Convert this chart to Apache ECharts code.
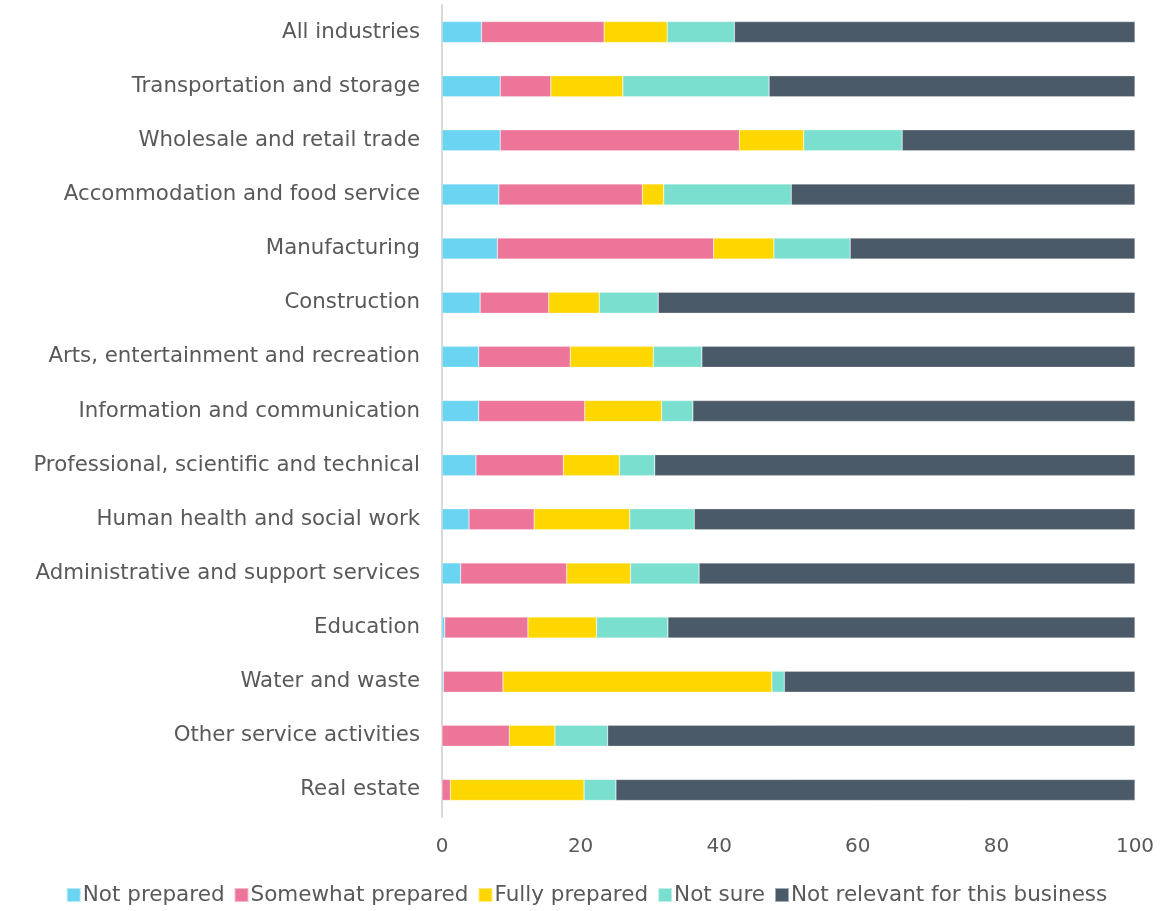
<!DOCTYPE html>
<html>
<head>
<meta charset="utf-8">
<script src="https://cdn.jsdelivr.net/npm/echarts@6/dist/echarts.min.js"></script>
<style>
  html, body { margin: 0; padding: 0; background: #fff; }
  #chart { width: 1173px; height: 911px; }
</style>
</head>
<body>
<div id="chart"></div>
<script>
// 行业（从上到下）
const industries = [
  'All industries',
  'Transportation and storage',
  'Wholesale and retail trade',
  'Accommodation and food service',
  'Manufacturing',
  'Construction',
  'Arts, entertainment and recreation',
  'Information and communication',
  'Professional, scientific and technical',
  'Human health and social work',
  'Administrative and support services',
  'Education',
  'Water and waste',
  'Other service activities',
  'Real estate'
]

// 各系列数值（%），顺序同上
const notPrepared = [5.7, 8.4, 8.4, 8.2, 8.0, 5.5, 5.3, 5.3, 4.9, 3.9, 2.7, 0.4, 0.2, 0, 0]
const somewhatPrepared = [17.7, 7.3, 34.5, 20.7, 31.2, 9.9, 13.2, 15.3, 12.6, 9.4, 15.3, 12.0, 8.6, 9.7, 1.2]
const fullyPrepared = [9.1, 10.4, 9.3, 3.1, 8.7, 7.3, 12.0, 11.1, 8.1, 13.8, 9.2, 9.9, 38.8, 6.6, 19.3]
const notSure = [9.7, 21.1, 14.2, 18.4, 11.0, 8.5, 7.0, 4.5, 5.1, 9.3, 9.9, 10.3, 1.8, 7.6, 4.6]
const notRelevant = [57.8, 52.8, 33.6, 49.6, 41.1, 68.8, 62.5, 63.8, 69.3, 63.6, 62.9, 67.4, 50.6, 76.1, 74.9]

const seriesNames = ['Not prepared', 'Somewhat prepared', 'Fully prepared', 'Not sure', 'Not relevant for this business']
const seriesData = [notPrepared, somewhatPrepared, fullyPrepared, notSure, notRelevant]
const colors = ['#6BD4F1', '#EC7599', '#FFD700', '#7ADFCF', '#4B5A68']

const fontFamily = 'DejaVu Sans, sans-serif'

const myChart = echarts.init(document.getElementById('chart'))

const option = {
  animation: false,
  color: colors,
  textStyle: { fontFamily: fontFamily },
  grid: {
    left: 442,
    right: 38,
    top: 5,
    bottom: 94,
  },
  legend: {
    bottom: 0,
    left: 'center',
    itemWidth: 14,
    itemHeight: 14,
    itemGap: 9,
    icon: 'rect',
    textStyle: { fontSize: 21.5, color: '#595959', fontFamily: fontFamily, padding: [0, 0, 0, -3] },
    data: seriesNames,
  },
  xAxis: {
    type: 'value',
    min: 0,
    max: 100,
    interval: 20,
    axisLine: { show: false },
    axisTick: { show: false },
    splitLine: { show: false },
    axisLabel: { fontSize: 20, color: '#595959', margin: 20, fontFamily: fontFamily },
  },
  yAxis: {
    type: 'category',
    inverse: true,
    data: industries,
    axisLine: { show: true, lineStyle: { color: '#D9D9D9', width: 2 } },
    axisTick: { show: false },
    axisLabel: { fontSize: 21.3, color: '#595959', margin: 22, fontFamily: fontFamily },
  },
  series: seriesNames.map((name, i) => ({
    name: name,
    type: 'bar',
    stack: 'total',
    barWidth: 21,
    data: seriesData[i],
    itemStyle: { color: colors[i], borderColor: 'rgba(255,255,255,0.5)', borderWidth: 0.5 },
  })),
}

myChart.setOption(option)
</script>
</body>
</html>
